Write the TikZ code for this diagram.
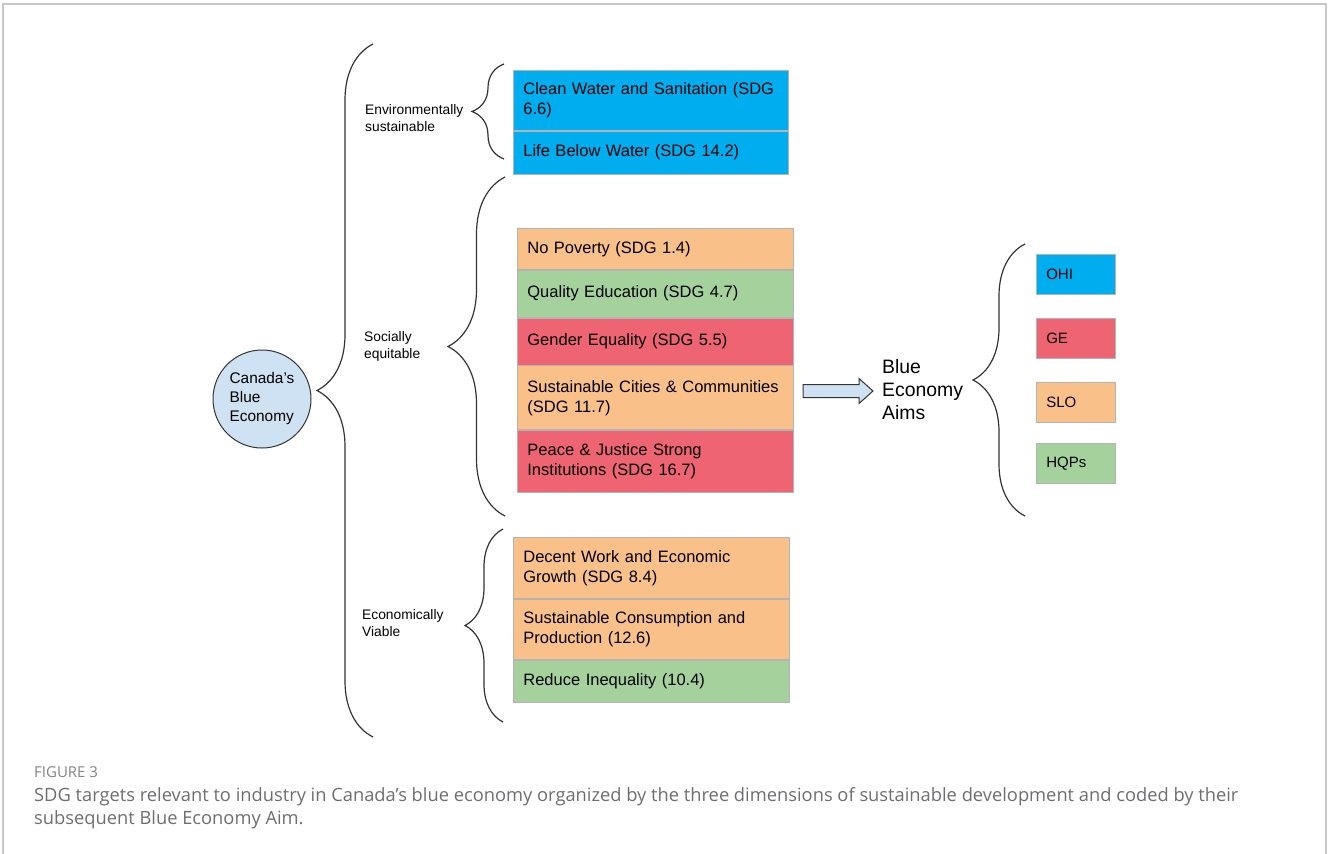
\documentclass[tikz,border=0pt]{standalone}
\usepackage{fontspec}
\setmainfont{Liberation Sans}
\newfontfamily\captionfont{Open Sans}
\usetikzlibrary{positioning}
\usetikzlibrary{decorations.pathreplacing}

\definecolor{sdgblue}{HTML}{00AEEF}
\definecolor{sdgorange}{HTML}{F9C08A}
\definecolor{sdggreen}{HTML}{A5D29C}
\definecolor{sdgred}{HTML}{EE6473}
\definecolor{boxgray}{HTML}{B4B4B4}
\definecolor{bracegray}{HTML}{333333}
\definecolor{circblue}{HTML}{CFE2F3}
\definecolor{framegray}{HTML}{C8C8C8}
\definecolor{capgray}{HTML}{6D6E71}

\begin{document}
\begin{tikzpicture}[x=1pt,y=-1pt,
  sdg/.style={draw=boxgray, line width=0.8pt, rectangle, anchor=north west,
    inner xsep=10pt, inner ysep=0pt, text width=#1, align=left,
    font=\fontsize{16.5}{20}\selectfont},
  sdg/.default=255pt,
  aim/.style={draw=boxgray, line width=0.6pt, rectangle, anchor=north west,
    minimum width=79pt, minimum height=40pt, text width=59pt, inner xsep=10pt,
    align=left, font=\fontsize{15}{18}\selectfont},
  lbl/.style={anchor=west, inner sep=0pt, align=left,
    font=\fontsize{13.8}{17}\selectfont},
  curly/.style={decorate, decoration={brace, amplitude=#1},
    draw=bracegray, line width=1.2pt}]
  \useasboundingbox (0,0) rectangle (1328,854);

% frame
  \draw[framegray, line width=1.5pt] (3,854) -- (3,4) -- (1326,4) -- (1326,854);

% root
  \node[circle, draw=bracegray, line width=1pt, fill=circblue, minimum size=98pt,
    inner sep=0pt, align=left, font=\fontsize{15.4}{19}\selectfont]
    (canada) at (262,399) {Canada's\\Blue\\Economy};
  \coordinate (bigtop) at (373,44);
  \coordinate (bigbot) at (373,737);
  \draw[curly=56pt] (bigbot) -- (bigtop);

% environmentally sustainable
  \node[lbl] (envlbl) at (365,118.5) {Environmentally\\sustainable};
  \coordinate (envtop) at (504,64);
  \coordinate (envbot) at (504,159);
  \draw[curly=32pt] (envbot) -- (envtop);
  \node[sdg, fill=sdgblue, minimum height=60pt] (cleanwater) at (513,70)
    {Clean Water and Sanitation (SDG\\6.6)};
  \node[sdg, fill=sdgblue, minimum height=43pt] (lifebelow) at (cleanwater.south west)
    {Life Below Water (SDG 14.2)};

% socially equitable
  \node[lbl] (soclbl) at (364,346.5) {Socially\\equitable};
  \coordinate (soctop) at (505,177);
  \coordinate (socbot) at (505,516);
  \draw[curly=57pt] (socbot) -- (soctop);
  \node[sdg=256pt, fill=sdgorange, minimum height=41pt] (nopoverty) at (517,228)
    {No Poverty (SDG 1.4)};
  \node[sdg=256pt, fill=sdggreen, minimum height=47pt] (education) at (nopoverty.south west)
    {Quality Education (SDG 4.7)};
  \node[sdg=256pt, fill=sdgred, minimum height=47pt] (gender) at (education.south west)
    {Gender Equality (SDG 5.5)};
  \node[sdg=256pt, fill=sdgorange, minimum height=64pt] (cities) at (gender.south west)
    {Sustainable Cities \& Communities\\(SDG 11.7)};
  \node[sdg=256pt, fill=sdgred, minimum height=62pt] (peace) at (cities.south west)
    {Peace \& Justice Strong\\Institutions (SDG 16.7)};

% economically viable
  \node[lbl] (ecolbl) at (362,623) {Economically\\Viable};
  \coordinate (ecotop) at (503,529);
  \coordinate (ecobot) at (503,722);
  \draw[curly=38pt] (ecobot) -- (ecotop);
  \node[sdg=256pt, fill=sdgorange, minimum height=61pt] (decentwork) at (513,537)
    {Decent Work and Economic\\Growth (SDG 8.4)};
  \node[sdg=256pt, fill=sdgorange, minimum height=60pt] (consumption) at (decentwork.south west)
    {Sustainable Consumption and\\Production (12.6)};
  \node[sdg=256pt, fill=sdggreen, minimum height=42pt] (inequality) at (consumption.south west)
    {Reduce Inequality (10.4)};

% arrow to the aims
  \coordinate (arrtail) at (803,391);
  \draw[bracegray, line width=1pt, fill=circblue] (arrtail) ++(0,-6.5) -- ++(56,0)
    -- ++(0,-6) -- ++(14,12.5) -- ++(-14,12.5) -- ++(0,-6) -- ++(-56,0) -- cycle;
  \node[anchor=west, inner sep=0pt, align=left, font=\fontsize{19.4}{23}\selectfont]
    (aims) at (882,390) {Blue\\Economy\\Aims};

% blue economy aims
  \coordinate (aimtop) at (1025,244);
  \coordinate (aimbot) at (1025,516);
  \draw[curly=52pt] (aimbot) -- (aimtop);
  \foreach \name/\txt/\col/\y in {ohi/OHI/sdgblue/254, ge/GE/sdgred/318,
    slo/SLO/sdgorange/382, hqp/HQPs/sdggreen/443}{
    \node[aim, fill=\col] (aim-\name) at (1036,\y) {\txt};
  }

% caption
  \node[anchor=west, inner sep=0pt, text=capgray!85, font=\captionfont\fontsize{15}{18}\selectfont]
    (figlbl) at (34,772) {FIGURE 3};
  \node[anchor=west, inner sep=0pt, align=left, text=capgray,
    font=\captionfont\fontsize{18.3}{23}\selectfont] (caption) at (34,808.5)
    {SDG targets relevant to industry in Canada’s blue economy organized by the three dimensions of sustainable development and coded by their\\subsequent Blue Economy Aim.};
\end{tikzpicture}
\end{document}
